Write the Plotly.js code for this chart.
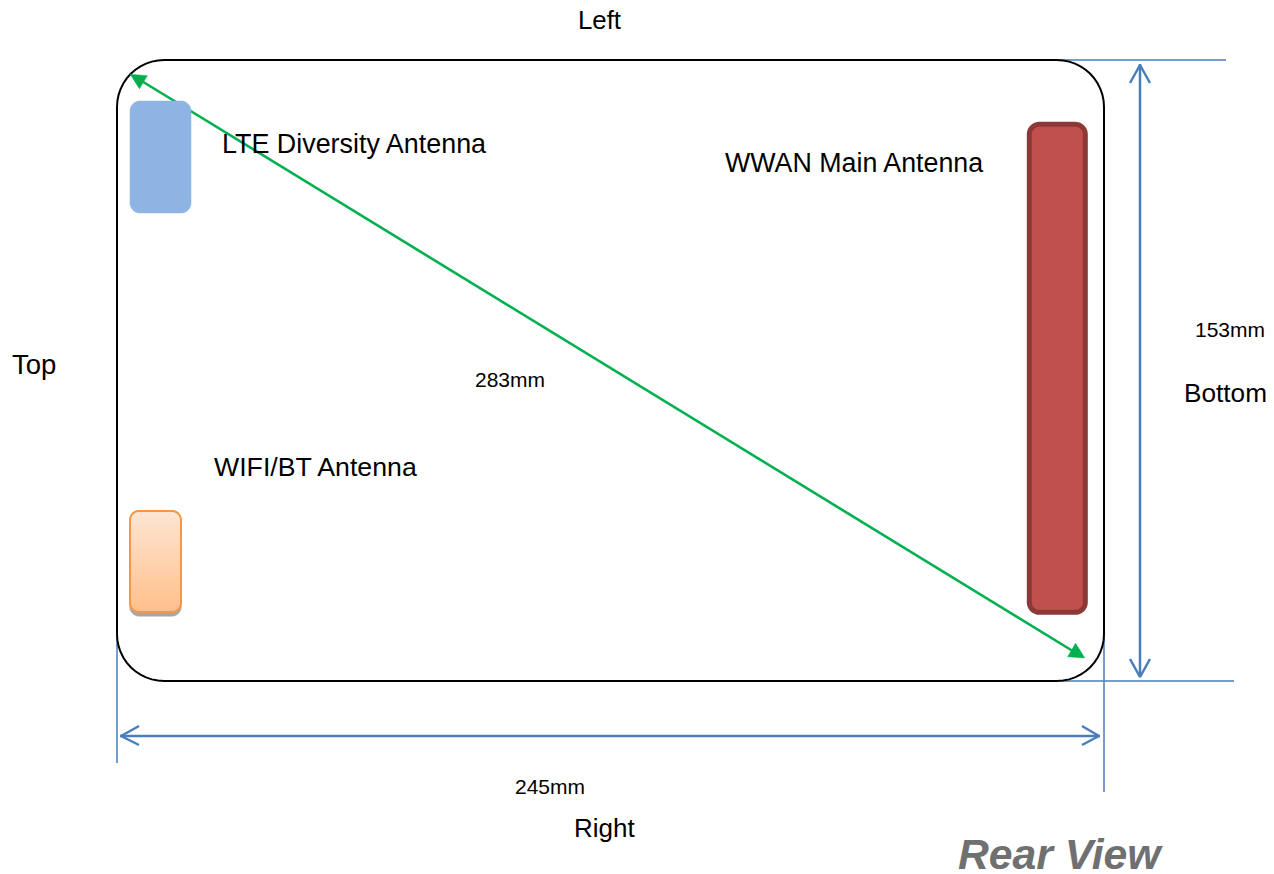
<!DOCTYPE html>
<html><head><meta charset="utf-8">
<script src="https://cdn.plot.ly/plotly-3.0.1.min.js"></script>
<style>html,body{margin:0;padding:0;background:#fff}#c{width:1274px;height:874px}</style>
</head><body><div id="c"></div>
<script>
// Box corners [x0,y0,x1,y1,radius]
const deviceBox=[117,60,1104,681,47];
const lteBox=[130,101,191,213,10];
const wifiShadow=[130,515,181,616,9];
const wifiBox=[130,511,181,612,9];
const wwanBox=[1029.3,124.3,1085.3,612.3,10];
// Dimension lines
const extTopX=[1060,1226],extTopY=[60,60];
const extBotX=[1060,1234],extBotY=[681,681];
const extLeftX=[117,117],extLeftY=[635,763];
const extRightX=[1104,1104],extRightY=[630,792];
const widthX=[120,1100],widthY=[736,736];
const heightX=[1140,1140],heightY=[64,677];
const headL_X=[139,121,139],headL_Y=[726,736,745];
const headR_X=[1082,1099,1082],headR_Y=[726,736,745];
const headT_X=[1130,1140,1150],headT_Y=[83,65,83];
const headB_X=[1130,1140,1150],headB_Y=[659,677,659];
// Diagonal
const diagX=[140,1076],diagY=[80,653];
const greenTopX=[130,147.3,139.3],greenTopY=[74.3,75.7,89];
const greenBotX=[1085,1067.7,1075.7],greenBotY=[658,656.7,643];
// Text
const labels=["Left","Top","LTE Diversity Antenna","WWAN Main Antenna","WIFI/BT Antenna","Bottom","Right"];
const labelX=[577,11,221,724,213,1183,573];
const labelY=[20,364.5,143.5,162.5,466.5,392.5,828];
const labelSize=[25.8,27.5,26.9,26.8,26.7,26.2,26];
const smallLabels=["153mm","283mm","245mm"];
const smallX=[1194,474,514];
const smallY=[329.5,379.5,786.5];
const viewLabel="Rear View";

function rr(b){
  const [x0,y0,x1,y1,r]=b,xs=[],ys=[];
  const arc=(cx,cy,a0)=>{for(let i=0;i<=12;i++){const a=(a0+i*7.5)*Math.PI/180;xs.push(cx+r*Math.cos(a));ys.push(cy+r*Math.sin(a));}};
  arc(x0+r,y0+r,180);arc(x1-r,y0+r,270);arc(x1-r,y1-r,0);arc(x0+r,y1-r,90);
  xs.push(xs[0]);ys.push(ys[0]);
  return {x:xs,y:ys};
}
const line=(x,y,color,width)=>({x,y,mode:'lines',type:'scatter',line:{color,width,simplify:false},hoverinfo:'skip'});
const poly=(x,y,color)=>({x,y,mode:'lines',type:'scatter',fill:'toself',fillcolor:color,line:{color,width:0.5,simplify:false},hoverinfo:'skip'});
const box=(b,fill,lc,lw)=>({...rr(b),mode:'lines',type:'scatter',fill:'toself',fillcolor:fill,line:{color:lc,width:lw,simplify:false},hoverinfo:'skip'});
const blue='#4a7ebb';

const orange=box(wifiBox,'#ffd0a8','#f79646',2);
orange.fillgradient={type:'vertical',colorscale:[[0,'#ffbf8a'],[1,'#fde6d4']]};

const traces=[
  line(extTopX,extTopY,blue,1.5),line(extBotX,extBotY,blue,1.5),
  line(extLeftX,extLeftY,blue,1.5),line(extRightX,extRightY,blue,1.5),
  {...rr(deviceBox),mode:'lines',type:'scatter',line:{color:'#000',width:2,simplify:false},hoverinfo:'skip'},
  line(widthX,widthY,blue,2.5),line(heightX,heightY,blue,2.5),
  line(headL_X,headL_Y,blue,2.5),line(headR_X,headR_Y,blue,2.5),
  line(headT_X,headT_Y,blue,2.5),line(headB_X,headB_Y,blue,2.5),
  line(diagX,diagY,'#00b050',2.6),
  poly(greenTopX,greenTopY,'#00b050'),poly(greenBotX,greenBotY,'#00b050'),
  box(lteBox,'#8eb4e3','#8eb4e3',0.5),
  box(wifiShadow,'#a6a6a6','#a6a6a6',1),
  orange,
  box(wwanBox,'#c0504d','#8c3836',5)
];
const font='"Liberation Sans",Arial,sans-serif';
const ann=(text,x,y,size,extra={})=>({text,x,y,xref:'x',yref:'y',xanchor:'left',yanchor:'middle',showarrow:false,borderpad:0,
  font:{family:font,size,color:'#000'},...extra});
const annotations=[
  ...labels.map((t,i)=>ann(t,labelX[i],labelY[i],labelSize[i])),
  ...smallLabels.map((t,i)=>ann(t,smallX[i],smallY[i],21)),
  ann('<b><i>'+viewLabel+'</i></b>',956.5,854,42.7,{font:{family:font,size:42.7,color:'#707070'}})
];
Plotly.newPlot('c',traces,{
  width:1274,height:874,margin:{l:0,r:0,t:0,b:0,pad:0},showlegend:false,
  paper_bgcolor:'#fff',plot_bgcolor:'#fff',
  xaxis:{range:[0,1274],visible:false,fixedrange:true},
  yaxis:{range:[874,0],visible:false,fixedrange:true},
  annotations
},{displayModeBar:false,staticPlot:true});
</script></body></html>
